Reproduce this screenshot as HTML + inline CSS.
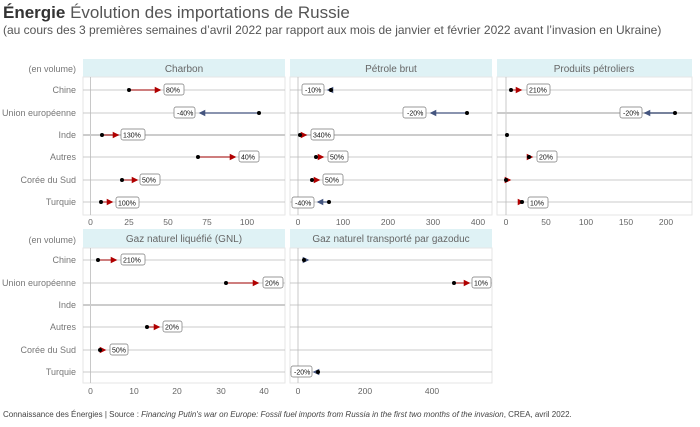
<!DOCTYPE html><html><head><meta charset="utf-8"><style>
body{margin:0;background:#fff;font-family:"Liberation Sans",sans-serif}
svg text{font-family:"Liberation Sans",sans-serif}
</style></head><body>
<svg width="700" height="422" viewBox="0 0 700 422" xmlns="http://www.w3.org/2000/svg">
<defs>
<marker id="r" viewBox="0 0 10 10" refX="8" refY="5" markerWidth="5.5" markerHeight="5.5" orient="auto"><path d="M0,0L10,5L0,10z" fill="#b00000"/></marker>
<marker id="b" viewBox="0 0 10 10" refX="8" refY="5" markerWidth="5.5" markerHeight="5.5" orient="auto"><path d="M0,0L10,5L0,10z" fill="#44557f"/></marker>
</defs>
<text x="3" y="18" font-size="17" fill="#333"><tspan font-weight="bold">Énergie</tspan> <tspan fill="#555">Évolution des importations de Russie</tspan></text>
<text x="3" y="34" font-size="12" fill="#555">(au cours des 3 premières semaines d’avril 2022 par rapport aux mois de janvier et février 2022 avant l’invasion en Ukraine)</text>
<g font-size="9" fill="#777" text-anchor="end">
<text x="76" y="72">(en volume)</text>
<text x="76" y="93">Chine</text><text x="76" y="116">Union européenne</text><text x="76" y="138">Inde</text><text x="76" y="160">Autres</text><text x="76" y="183">Corée du Sud</text><text x="76" y="205">Turquie</text>
<text x="76" y="243">(en volume)</text>
<text x="76" y="263">Chine</text><text x="76" y="286">Union européenne</text><text x="76" y="308">Inde</text><text x="76" y="330">Autres</text><text x="76" y="353">Corée du Sud</text><text x="76" y="375">Turquie</text>
</g>
<g fill="#dff2f5"><rect x="83" y="59" width="202" height="18"/><rect x="290" y="59" width="202" height="18"/><rect x="497" y="59" width="195" height="18"/><rect x="83" y="229" width="202" height="19"/><rect x="290" y="229" width="202" height="19"/></g>
<g font-size="10" fill="#666" text-anchor="middle"><text x="184" y="72">Charbon</text><text x="391" y="72">Pétrole brut</text><text x="594" y="72">Produits pétroliers</text><text x="184" y="242">Gaz naturel liquéfié (GNL)</text><text x="391" y="242">Gaz naturel transporté par gazoduc</text></g>
<g fill="none" stroke="#e6e6e6"><rect x="83" y="77" width="202" height="138"/><rect x="290" y="77" width="202" height="138"/><rect x="497" y="77" width="195" height="138"/><rect x="83" y="248" width="202" height="135"/><rect x="290" y="248" width="202" height="135"/></g>
<g stroke="#bbb" stroke-width="0.8">
<path d="M83 90H285M83 113H285M83 135H285M83 157H285M83 180H285M83 202H285"/>
<path d="M290 90H492M290 113H492M290 135H492M290 157H492M290 180H492M290 202H492"/>
<path d="M497 90H692M497 113H692M497 135H692M497 157H692M497 180H692M497 202H692"/>
<path d="M83 260H285M83 283H285M83 305H285M83 327H285M83 350H285M83 372H285"/>
<path d="M290 260H492M290 283H492M290 305H492M290 327H492M290 350H492M290 372H492"/>
<path d="M90.5 77V215M298 77V215M506 77V215M90.5 248V383M298 248V383"/>
</g>
<g stroke="#ccc" stroke-width="2"><path d="M83 135H285M290 135H492M497 113H692M83 305H285"/></g>
<g font-size="8.5" fill="#666" text-anchor="middle">
<text x="90.5" y="225">0</text><text x="129" y="225">25</text><text x="168" y="225">50</text><text x="207" y="225">75</text><text x="247" y="225">100</text>
<text x="298" y="225">0</text><text x="343" y="225">100</text><text x="388" y="225">200</text><text x="433" y="225">300</text><text x="478" y="225">400</text>
<text x="506" y="225">0</text><text x="546" y="225">50</text><text x="586" y="225">100</text><text x="626" y="225">150</text><text x="666" y="225">200</text>
<text x="90.5" y="394">0</text><text x="134" y="394">10</text><text x="177" y="394">20</text><text x="221" y="394">30</text><text x="264" y="394">40</text>
<text x="298" y="394">0</text><text x="365" y="394">200</text><text x="432" y="394">400</text>
</g>
<g stroke-width="1.2" fill="none">
<g stroke="#b03030" marker-end="url(#r)">
<path d="M129 90H160"/><path d="M102 135H118"/><path d="M198 157H235"/><path d="M122 180H137"/><path d="M101 202H112"/>
<path d="M300 135H306"/><path d="M316 157H323"/><path d="M312 180H319"/>
<path d="M511 90H521"/><path d="M529 157H532"/><path d="M506 180H510"/><path d="M520 202H523"/>
<path d="M98 260H116"/><path d="M226 283H258"/><path d="M147 327H159"/><path d="M100 350H105"/>
<path d="M454 283H469"/>
</g>
<g stroke="#44557f" marker-end="url(#b)">
<path d="M259 113H200"/><path d="M331 90H328"/><path d="M467 113H431"/><path d="M329 202H318"/><path d="M675 113H645"/>
<path d="M304 260H308"/><path d="M318 372H314"/>
</g>
</g>
<g fill="#000">
<circle cx="129" cy="90" r="2"/><circle cx="259" cy="113" r="2"/><circle cx="102" cy="135" r="2"/><circle cx="198" cy="157" r="2"/><circle cx="122" cy="180" r="2"/><circle cx="101" cy="202" r="2"/>
<circle cx="331" cy="90" r="2"/><circle cx="467" cy="113" r="2"/><circle cx="300" cy="135" r="2"/><circle cx="316" cy="157" r="2"/><circle cx="312" cy="180" r="2"/><circle cx="329" cy="202" r="2"/>
<circle cx="511" cy="90" r="2"/><circle cx="675" cy="113" r="2"/><circle cx="507" cy="135" r="2"/><circle cx="529" cy="157" r="2"/><circle cx="506" cy="180" r="2"/><circle cx="522" cy="202" r="2"/>
<circle cx="98" cy="260" r="2"/><circle cx="226" cy="283" r="2"/><circle cx="147" cy="327" r="2"/><circle cx="100" cy="350" r="2"/>
<circle cx="304" cy="260" r="2"/><circle cx="454" cy="283" r="2"/><circle cx="318" cy="372" r="2"/>
</g>
<g font-size="7" fill="#111">
<g fill="#fff" stroke="#777" stroke-width="0.7">
<rect x="164" y="84" width="20" height="11" rx="2"/><rect x="174" y="107" width="21" height="11" rx="2"/><rect x="121" y="129" width="24" height="11" rx="2"/><rect x="239" y="151" width="20" height="11" rx="2"/><rect x="140" y="174" width="20" height="11" rx="2"/><rect x="116" y="197" width="23" height="11" rx="2"/>
<rect x="302" y="84" width="22" height="11" rx="2"/><rect x="403" y="107" width="23" height="11" rx="2"/><rect x="311" y="129" width="23" height="11" rx="2"/><rect x="328" y="151" width="20" height="11" rx="2"/><rect x="323" y="174" width="20" height="11" rx="2"/><rect x="292" y="197" width="22" height="11" rx="2"/>
<rect x="527" y="84" width="23" height="11" rx="2"/><rect x="620" y="107" width="22" height="11" rx="2"/><rect x="537" y="151" width="20" height="11" rx="2"/><rect x="528" y="197" width="20" height="11" rx="2"/>
<rect x="121" y="254" width="24" height="11" rx="2"/><rect x="263" y="277" width="20" height="11" rx="2"/><rect x="163" y="321" width="19" height="11" rx="2"/><rect x="110" y="344" width="18" height="11" rx="2"/>
<rect x="472" y="277" width="19" height="11" rx="2"/><rect x="291" y="366" width="21" height="11" rx="2"/>
</g>
<text x="166" y="92.5">80%</text><text x="177" y="115.5">-40%</text><text x="123" y="137.5">130%</text><text x="241" y="159.5">40%</text><text x="142" y="182.5">50%</text><text x="118" y="205.5">100%</text>
<text x="305" y="92.5">-10%</text><text x="407" y="115.5">-20%</text><text x="313" y="137.5">340%</text><text x="330" y="159.5">50%</text><text x="325" y="182.5">50%</text><text x="295" y="205.5">-40%</text>
<text x="529" y="92.5">210%</text><text x="623" y="115.5">-20%</text><text x="539" y="159.5">20%</text><text x="530" y="205.5">10%</text>
<text x="123" y="262.5">210%</text><text x="265" y="285.5">20%</text><text x="165" y="329.5">20%</text><text x="112" y="352.5">50%</text>
<text x="474" y="285.5">10%</text><text x="294" y="374.5">-20%</text>
</g>
<text x="3" y="417" font-size="8" fill="#444">Connaissance des Énergies | Source : <tspan font-style="italic">Financing Putin's war on Europe: Fossil fuel imports from Russia in the first two months of the invasion</tspan>, CREA, avril 2022.</text>
</svg>
</body></html>
